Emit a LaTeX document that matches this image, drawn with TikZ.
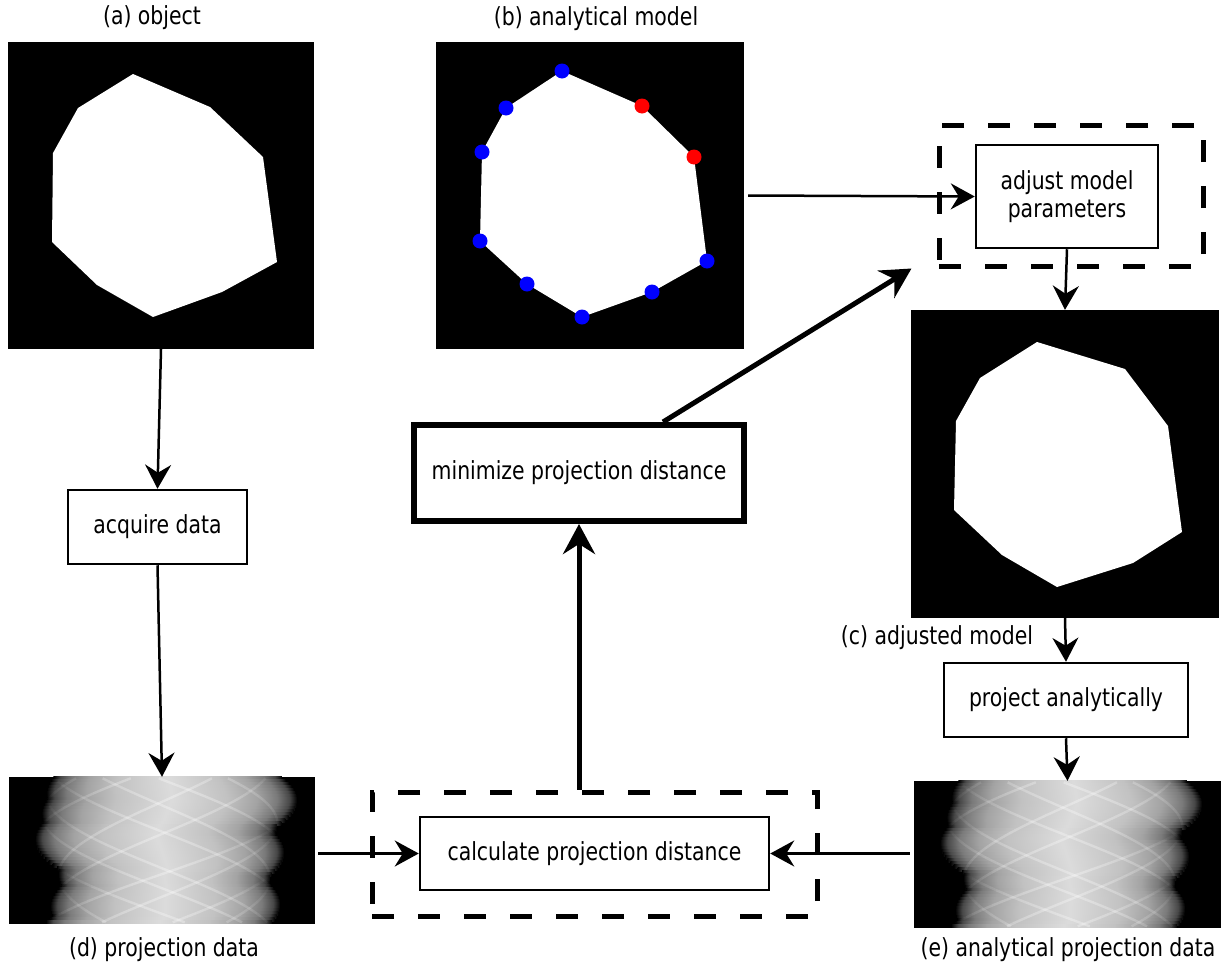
\documentclass[tikz,border=0pt]{standalone}
\usepackage{fontspec}
\setmainfont{DejaVu Sans}[FakeStretch=0.82]
\usetikzlibrary{arrows.meta}
\pgfdeclarehorizontalshading{sino}{100bp}{gray(0bp)=(0); gray(25bp)=(0); gray(26.5bp)=(0.28); gray(29bp)=(0.48); gray(33bp)=(0.64); gray(39bp)=(0.76); gray(50bp)=(0.86); gray(61bp)=(0.76); gray(67bp)=(0.64); gray(71bp)=(0.48); gray(73.5bp)=(0.28); gray(75bp)=(0); gray(100bp)=(0)}
\newcommand\rowbounds{%
    \pgfmathsetmacro\Lv{153+min(-27*(\cth)-124*(\sth), 53*(\cth)-89*(\sth), 105*(\cth)-38*(\sth), 118*(\cth)+66*(\sth), 63*(\cth)+97*(\sth), -7*(\cth)+122*(\sth), -62*(\cth)+89*(\sth), -109*(\cth)+46*(\sth), -107*(\cth)-43*(\sth), -83*(\cth)-87*(\sth))}%
    \pgfmathsetmacro\Rv{153+max(-27*(\cth)-124*(\sth), 53*(\cth)-89*(\sth), 105*(\cth)-38*(\sth), 118*(\cth)+66*(\sth), 63*(\cth)+97*(\sth), -7*(\cth)+122*(\sth), -62*(\cth)+89*(\sth), -109*(\cth)+46*(\sth), -107*(\cth)-43*(\sth), -83*(\cth)-87*(\sth))}%
}
\newcommand\drawsino{%
  \foreach \k in {0,...,48}{%
    \pgfmathsetmacro\cth{cos((\k+0.5)*3.673469)}%
    \pgfmathsetmacro\sth{sin((\k+0.5)*3.673469)}%
    \rowbounds
    \shade[shading=sino] (\Lv,\k*3) rectangle (\Rv,\k*3+3.3);
  }%
  \foreach \k in {0,...,47}{%
    \pgfmathsetmacro\cth{cos((\k+0.5)*3.673469)}%
    \pgfmathsetmacro\sth{sin((\k+0.5)*3.673469)}%
    \pgfmathsetmacro\cnx{cos((\k+1.5)*3.673469)}%
    \pgfmathsetmacro\snx{sin((\k+1.5)*3.673469)}%
    \rowbounds
    \pgfmathsetmacro\Mv{(\Lv+\Rv)/2}%
    \pgfmathsetmacro\Hv{(\Rv-\Lv)/2}%
    \foreach \px/\py in {-27/-124,53/-89,105/-38,118/66,63/97,-7/122,-62/89,-109/46,-107/-43,-83/-87}{%
      \pgfmathsetmacro\sa{153+(\px)*(\cth)+(\py)*(\sth)}%
      \pgfmathsetmacro\sb{153+(\px)*(\cnx)+(\py)*(\snx)}%
      \pgfmathsetmacro\op{max(0,0.3*(1-((\sa-\Mv)/\Hv)*((\sa-\Mv)/\Hv)))}%
      \draw[white,opacity=\op,line width=2.4bp] (\sa,\k*3+1.5) -- (\sb,\k*3+4.5);
    }%
  }%
}
\tikzset{
  lbl/.style={font=\fontsize{25}{29}\selectfont, inner sep=0pt},
  panel/.style={fill=black, draw=none, inner sep=0pt},
  procbox/.style={draw=black, line width=2.5bp, fill=white, inner sep=0pt, align=center, font=\fontsize{25}{28}\selectfont},
  dashbox/.style={draw=black, line width=5bp, dash pattern=on 22bp off 24bp, inner sep=0pt},
  thinarrow/.style={line width=2.5bp, -{Stealth[length=24bp,width=26bp,inset=8bp]}},
  thickarrow/.style={line width=5bp, -{Stealth[length=30bp,width=32bp,inset=10bp]}},
  vdot/.style={circle, inner sep=0pt, minimum size=15bp, draw=none}
}
\begin{document}
\begin{tikzpicture}[x=1bp,y=-1bp]
\useasboundingbox[fill=white] (0,0) rectangle (1224,966);

% panels
\node[panel, minimum width=306bp, minimum height=307bp] (a) at (161,195.5) {};
\node[panel, minimum width=308bp, minimum height=307bp] (b) at (590,195.5) {};
\node[panel, minimum width=308bp, minimum height=308bp] (c) at (1065,464) {};
\node[panel, minimum width=306bp, minimum height=147bp] (d) at (162,850.5) {};
\node[panel, minimum width=307bp, minimum height=147bp] (e) at (1067.5,854.5) {};

% polygons
\fill[white] (133,74) -- (210,107) -- (263,157) -- (277,262) -- (222,292) -- (153,317) -- (97,285) -- (52,242) -- (53,153) -- (78,108) -- cycle;
\fill[white] (562,71) -- (642,106) -- (694,157) -- (707,261) -- (652,292) -- (582,317) -- (527,284) -- (480,241) -- (482,152) -- (506,108) -- cycle;
\fill[white] (1037,342) -- (1125,369) -- (1168,426) -- (1182,532) -- (1133,563) -- (1057,587) -- (1002,555) -- (954,510) -- (956,421) -- (980,378) -- cycle;

% model control points
\foreach \p/\q [count=\i] in {562/71,506/108,482/152,480/241,527/284,582/317,652/292,707/261}
  \node[vdot, fill={rgb,255:red,0;green,0;blue,255}] (bp\i) at (\p,\q) {};
\node[vdot, fill={rgb,255:red,255;green,0;blue,0}] (rp1) at (642,106) {};
\node[vdot, fill={rgb,255:red,255;green,0;blue,0}] (rp2) at (694,157) {};

% sinograms
\begin{scope}[shift={(d.north west)}]
  \clip (0,0) rectangle (306,147);
  \drawsino
\end{scope}
\begin{scope}[shift={(e.north west)}]
  \clip (0,0) rectangle (307,147);
  \drawsino
\end{scope}

% labels
\node[lbl] (la) at (152,18) {(a) object};
\node[lbl] (lb) at (596,19) {(b) analytical model};
\node[lbl] (lc) at (937,638) {(c) adjusted model};
\node[lbl] (ld) at (164,950) {(d) projection data};
\node[lbl] (le) at (1068,950) {(e) analytical projection data};

% dashed groups
\node[dashbox, minimum width=445bp, minimum height=124bp] (calcgrp) at (594.5,854) {};
\node[dashbox, minimum width=264bp, minimum height=141bp] (adjgrp) at (1071,195.5) {};

% process boxes
\node[procbox, minimum width=179bp, minimum height=74bp] (acq) at (157.5,527) {acquire data};
\node[procbox, line width=6bp, minimum width=330bp, minimum height=96bp] (mini) at (579,473) {minimize projection distance};
\node[procbox, minimum width=349bp, minimum height=73bp] (calc) at (594.5,853.5) {calculate projection distance};
\node[procbox, minimum width=182bp, minimum height=103bp] (adj) at (1067,196.5) {adjust model\\parameters};
\node[procbox, minimum width=244bp, minimum height=74bp] (proj) at (1066,700) {project analytically};

\coordinate (mtail) at ([xshift=84bp]mini.north);
\coordinate (mhead) at ([xshift=-25bp,yshift=0bp]adjgrp.south west);

% connectors
\draw[thinarrow] (a.south) -- (acq.north);
\draw[thinarrow] (acq.south) -- (d.north);
\draw[thinarrow] ([xshift=4bp]b.east) -- (adj.west);
\draw[thinarrow] (adj.south) -- (c.north);
\draw[thinarrow] (c.south) -- (proj.north);
\draw[thinarrow] (proj.south) -- (e.north);
\draw[thinarrow] ([xshift=3bp]d.east |- calc.west) -- (calc.west);
\draw[thinarrow] ([xshift=-4bp]e.west |- calc.east) -- (calc.east);
\draw[thickarrow] (mini.south |- calcgrp.north) -- (mini.south);
\draw[thickarrow] (mtail) -- (mhead);
\end{tikzpicture}
\end{document}
